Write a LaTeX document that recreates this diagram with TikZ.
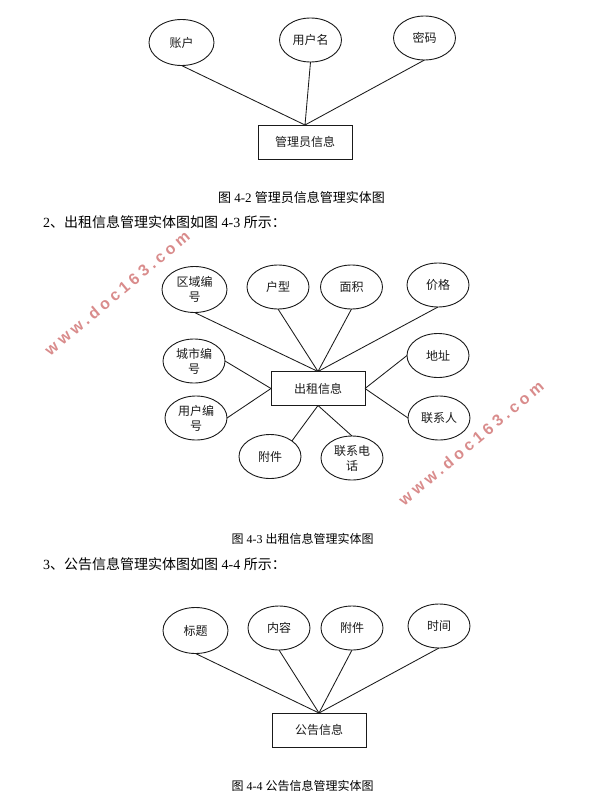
\documentclass[tikz,border=0pt]{standalone}
\usepackage{fontspec}
\usetikzlibrary{shapes.geometric}
\setmainfont{Liberation Serif}
\newfontfamily\cjk{Noto Sans CJK SC}
\newfontfamily\wmfont[LetterSpace=24]{Liberation Sans Bold}
\definecolor{wmred}{HTML}{D98C8C}
\definecolor{inkline}{HTML}{1A1A1A}
\tikzset{
  attr/.style={draw=inkline,line width=0.9pt,ellipse,inner sep=0pt,outer sep=0pt,minimum width=62pt,minimum height=44pt,align=center,font=\cjk\fontsize{12}{15}\selectfont,text=inkline},
  attrbig/.style={attr,minimum width=65pt,minimum height=46pt},
  entity/.style={draw=inkline,line width=1pt,rectangle,inner sep=0pt,outer sep=0pt,minimum width=94pt,minimum height=34pt,font=\cjk\fontsize{12}{14}\selectfont,text=inkline},
  link/.style={draw=inkline,line width=0.85pt},
  caption/.style={inner sep=0pt,font=\fontsize{12}{14}\selectfont,text=black},
  captionbig/.style={caption,font=\fontsize{13}{15}\selectfont},
  bodyline/.style={inner sep=0pt,anchor=west,font=\fontsize{14}{16}\selectfont,text=black},
  wmark/.style={inner sep=0pt,rotate=40,font=\wmfont\fontsize{16}{18}\selectfont,text=wmred}
}
\begin{document}
\begin{tikzpicture}[x=1pt,y=-1pt]
\useasboundingbox (0,0) rectangle (611,808);
% watermarks
\node[wmark] (wa) at (117,293) {www.doc163.com};
\node[wmark] (wb) at (471,443) {www.doc163.com};
% figure 4-2
\node[attrbig] (a1) at (181.5,42.5) {账户};
\node[attr] (a2) at (310.5,40) {用户名};
\node[attr] (a3) at (424.5,38) {密码};
\node[entity] (ea) at (305,142) {管理员信息};
\draw[link] (a1.south) -- (ea.north);
\draw[link] (a2.south) -- (ea.north);
\draw[link] (a3.south) -- (ea.north);
\node[captionbig] (ca) at (301.5,198) {{\cjk 图} 4-2 {\cjk 管理员信息管理实体图}};
\node[bodyline] (la) at (43,222) {2{\cjk 、出租信息管理实体图如图} 4-3 {\cjk 所示：}};
% figure 4-3
\node[attrbig] (b1) at (194.5,289.5) {区域编\\号};
\node[attr] (b2) at (278,287) {户型};
\node[attr] (b3) at (351.5,287) {面积};
\node[attr] (b4) at (438,285) {价格};
\node[attr] (b5) at (194,361) {城市编\\号};
\node[attr] (b6) at (196,418) {用户编\\号};
\node[attr] (b7) at (438,355.5) {地址};
\node[attr] (b8) at (439,418) {联系人};
\node[attr] (b9) at (270,456.5) {附件};
\node[attr] (b10) at (352,458) {联系电\\话};
\node[entity] (eb) at (318,388.5) {出租信息};
\draw[link] (b1.south) -- (eb.north);
\draw[link] (b2.south) -- (eb.north);
\draw[link] (b3.south) -- (eb.north);
\draw[link] (b4.south) -- (eb.north);
\draw[link] (b5.east) -- (eb.west);
\draw[link] (b6.east) -- (eb.west);
\draw[link] (eb.east) -- (b7.west);
\draw[link] (eb.east) -- (b8.west);
\draw[link] (eb.south) -- (b9.north east);
\draw[link] (eb.south) -- (b10.north);
\node[caption] (cb) at (302.5,539) {{\cjk 图} 4-3 {\cjk 出租信息管理实体图}};
\node[bodyline] (lb) at (43,564) {3{\cjk 、公告信息管理实体图如图} 4-4 {\cjk 所示：}};
% figure 4-4
\node[attrbig] (c1) at (195.5,630.5) {标题};
\node[attr] (c2) at (279,628) {内容};
\node[attr] (c3) at (352,628) {附件};
\node[attr] (c4) at (439,626) {时间};
\node[entity] (ec) at (319,730) {公告信息};
\draw[link] (c1.south) -- (ec.north);
\draw[link] (c2.south) -- (ec.north);
\draw[link] (c3.south) -- (ec.north);
\draw[link] (c4.south) -- (ec.north);
\node[caption] (cc) at (302.5,786) {{\cjk 图} 4-4 {\cjk 公告信息管理实体图}};
\end{tikzpicture}
\end{document}
